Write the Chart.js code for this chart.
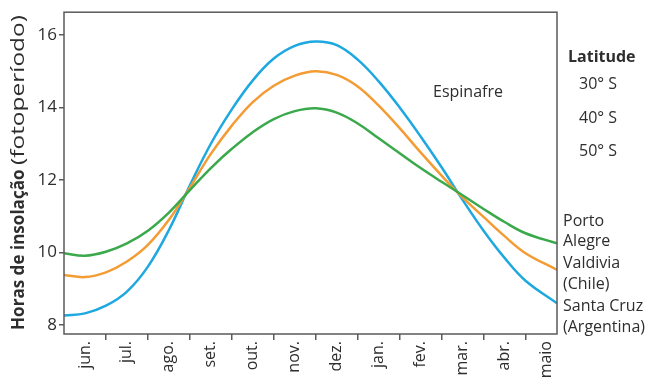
<!DOCTYPE html>
<html>
<head>
<meta charset="utf-8">
<script src="https://cdn.jsdelivr.net/npm/chart.js@4/dist/chart.umd.min.js"></script>
<style>
  html, body { margin: 0; padding: 0; background: #fff; }
  #wrap { width: 653px; height: 377px; position: relative; }
</style>
</head>
<body>
<div id="wrap"><canvas id="c"></canvas></div>
<script>
// Month labels (year runs from June to May) and the positions where values were sampled
const months = ['jun.', 'jul.', 'ago.', 'set.', 'out.', 'nov.', 'dez.', 'jan.', 'fev.', 'mar.', 'abr.', 'maio'];
const samplePos = [0, 0.5, 1, 1.5, 2, 2.5, 3, 3.5, 4, 4.5, 5, 5.5, 6, 6.5, 7, 7.5, 8, 8.5, 9, 9.5, 10, 10.5, 11, 11.75];

// Daylength (hours) — 50° S, 40° S, 30° S
const santaCruz   = [8.26, 8.32, 8.53, 8.92, 9.61, 10.62, 11.85, 13.0, 13.95, 14.75, 15.35, 15.7, 15.82, 15.72, 15.32, 14.72, 14.0, 13.2, 12.35, 11.45, 10.6, 9.85, 9.22, 8.6];
const valdivia    = [9.38, 9.32, 9.45, 9.75, 10.21, 10.9, 11.79, 12.72, 13.5, 14.15, 14.6, 14.88, 15.0, 14.9, 14.58, 14.05, 13.43, 12.76, 12.12, 11.52, 10.98, 10.45, 9.98, 9.52];
const portoAlegre = [9.98, 9.91, 10.02, 10.25, 10.6, 11.1, 11.72, 12.33, 12.86, 13.32, 13.68, 13.9, 13.98, 13.86, 13.56, 13.15, 12.74, 12.33, 11.95, 11.58, 11.2, 10.84, 10.53, 10.25];

const yTicks = [8, 10, 12, 14, 16];
const latitudes = ['30° S', '40° S', '50° S'];
const seriesNames = [['Porto', 'Alegre'], ['Valdivia', '(Chile)'], ['Santa Cruz', '(Argentina)']];

const FONT = '"Open Sans", "Noto Sans", sans-serif';
const TEXT = '#2e2e2e';
const AXIS = '#5a5a5a';

const toPoints = arr => arr.map((v, i) => ({ x: samplePos[i], y: v }));

// Frame, y-axis title, latitude legend and curve names
const annotations = {
  id: 'annotations',
  afterDraw(chart) {
    const { ctx, chartArea: a } = chart;
    ctx.save();
    ctx.strokeStyle = AXIS;
    ctx.lineWidth = 1.5;
    ctx.strokeRect(a.left, a.top, a.right - a.left, a.bottom - a.top);

    ctx.fillStyle = TEXT;
    ctx.textBaseline = 'middle';
    ctx.textAlign = 'left';

    // y-axis title: bold part followed by regular part, reading upward
    ctx.save();
    ctx.translate(19, 330);
    ctx.rotate(-Math.PI / 2);
    const boldTxt = 'Horas de insolação ';
    const normTxt = '(fotoperíodo)';
    ctx.font = 'bold 17px ' + FONT;
    const wb = ctx.measureText(boldTxt).width;
    ctx.save();
    ctx.scale(165 / wb, 1);
    ctx.fillText(boldTxt, 0, 0);
    ctx.restore();
    ctx.font = '19px ' + FONT;
    const wn = ctx.measureText(normTxt).width;
    ctx.save();
    ctx.translate(165, 0);
    ctx.scale(150 / wn, 1);
    ctx.fillText(normTxt, 0, 0);
    ctx.restore();
    ctx.restore();

    // latitude legend
    ctx.font = 'bold 16px ' + FONT;
    ctx.fillText('Latitude', 568, 57);
    ctx.font = '16px ' + FONT;
    const latY = [84, 118, 151];
    latitudes.forEach((t, i) => ctx.fillText(t, 579, latY[i]));

    // plant name
    ctx.fillText('Espinafre', 433, 92);

    // curve names at the right end
    const nameY = [[221, 241], [263, 284], [306, 327]];
    seriesNames.forEach((lines, i) => {
      lines.forEach((t, j) => ctx.fillText(t, 563, nameY[i][j]));
    });
    ctx.restore();
  }
};

new Chart(document.getElementById('c'), {
  type: 'line',
  data: {
    datasets: [
      { label: 'Porto Alegre', data: toPoints(portoAlegre), borderColor: '#3aa94b' },
      { label: 'Valdivia (Chile)', data: toPoints(valdivia), borderColor: '#f39c34' },
      { label: 'Santa Cruz (Argentina)', data: toPoints(santaCruz), borderColor: '#1ea8e0' }
    ].map(d => Object.assign(d, {
      borderWidth: 2.5,
      pointRadius: 0,
      fill: false,
      tension: 0.4
    }))
  },
  options: {
    responsive: true,
    maintainAspectRatio: false,
    animation: false,
    layout: { padding: { left: 0, right: 96, top: 11, bottom: 0 } },
    plugins: { legend: { display: false }, tooltip: { enabled: false } },
    scales: {
      x: {
        type: 'linear',
        min: 0,
        max: 11.75,
        afterBuildTicks(scale) {
          const ticks = [];
          for (let i = 0; i < months.length; i++) {
            ticks.push({ value: i + 0.5 });
            if (i + 1 < months.length) ticks.push({ value: i + 1 });
          }
          scale.ticks = ticks;
        },
        afterFit(scale) { scale.height = 43; },
        border: { display: false },
        grid: {
          drawOnChartArea: false,
          drawTicks: true,
          tickLength: 6,
          lineWidth: 1.5,
          color: c => (c.tick && Number.isInteger(c.tick.value)) ? AXIS : 'rgba(0,0,0,0)'
        },
        ticks: {
          autoSkip: false,
          minRotation: 90,
          maxRotation: 90,
          padding: 1,
          color: TEXT,
          font: { family: FONT, size: 16 },
          callback: v => Number.isInteger(v) ? '' : months[Math.floor(v)]
        }
      },
      y: {
        min: 7.75,
        max: 16.63,
        afterBuildTicks(scale) { scale.ticks = yTicks.map(v => ({ value: v })); },
        afterFit(scale) { scale.width = 64; },
        border: { display: false },
        grid: {
          drawOnChartArea: false,
          drawTicks: true,
          tickLength: 5,
          lineWidth: 1.5,
          color: AXIS
        },
        ticks: {
          padding: 2,
          color: TEXT,
          font: { family: FONT, size: 17 }
        }
      }
    }
  },
  plugins: [annotations]
});
</script>
</body>
</html>
